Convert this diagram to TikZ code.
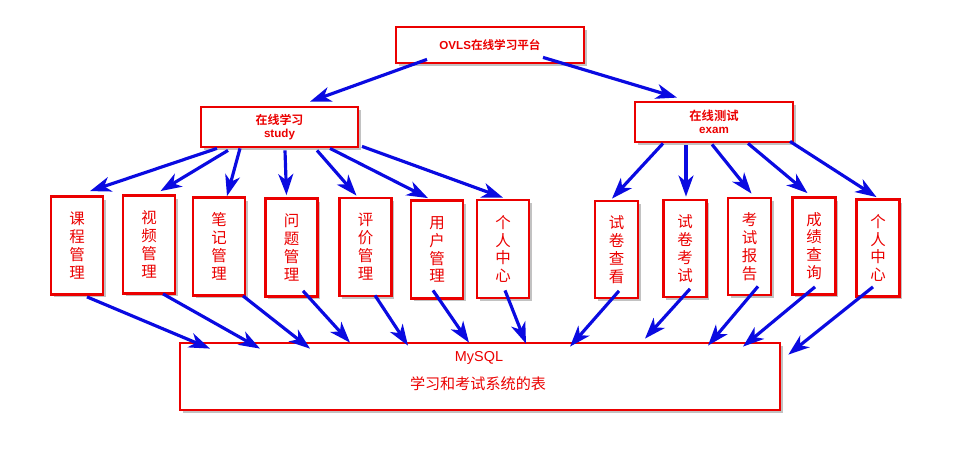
\documentclass[tikz,border=0pt]{standalone}
\usepackage{fontspec}
\setmainfont{Liberation Sans}
\newfontfamily\cjk{Noto Sans CJK SC}[BoldFont={Noto Sans CJK SC Bold}]
\usetikzlibrary{arrows.meta, shadows}

\definecolor{boxred}{RGB}{235,0,0}
\definecolor{linkblue}{RGB}{10,10,225}

\begin{document}
\begin{tikzpicture}[
    x=0.02cm, y=-0.02cm,
    >={Stealth[length=12pt, width=8.5pt, inset=3.5pt]},
    redbox/.style={
      draw=boxred, fill=white, line width=1.6pt, text=boxred,
      inner sep=0pt, align=center,
      drop shadow={shadow xshift=1.7pt, shadow yshift=-1.7pt,
                   fill=black!60, opacity=0.4},
    },
    headbox/.style={redbox, font=\fontsize{6.6}{7.1}\selectfont\bfseries},
    leafbox/.style={redbox, minimum width=1.04cm, minimum height=1.96cm,
      font=\cjk\fontsize{8.8}{10.2}\selectfont},
    thinleaf/.style={leafbox, minimum width=0.86cm, minimum height=1.94cm},
    dblabel/.style={text=boxred, inner sep=0pt},
    link/.style={->, draw=linkblue, line width=1.8pt},
  ]
  \useasboundingbox (0,0) rectangle (964,450);

  %% ---- top level ----
  \node[headbox, minimum width=3.76cm, minimum height=0.72cm]
    (top) at (490,45) {OVLS{\cjk 在线学习平台}};

  %% ---- second level ----
  \node[headbox, minimum width=3.14cm, minimum height=0.8cm]
    (study) at (279.5,127) {{\cjk\fontsize{6.8}{7.1}\selectfont 在线学习}\\study};
  \node[headbox, minimum width=3.16cm, minimum height=0.8cm]
    (exam) at (714,122) {{\cjk\fontsize{7}{7.1}\selectfont 在线测试}\\exam};

  %% ---- study modules ----
  \node[leafbox] (c1) at (77,245.5)  {课\\程\\管\\理};
  \node[leafbox] (c2) at (149,244.5) {视\\频\\管\\理};
  \node[leafbox] (c3) at (219,246.5) {笔\\记\\管\\理};
  \node[leafbox] (c4) at (291.5,247.5) {问\\题\\管\\理};
  \node[leafbox] (c5) at (365.5,247) {评\\价\\管\\理};
  \node[leafbox] (c6) at (437,249.5) {用\\户\\管\\理};
  \node[leafbox] (c7) at (503,249)   {个\\人\\中\\心};

  %% ---- exam modules ----
  \node[thinleaf] (r1) at (616.5,249.5) {试\\卷\\查\\看};
  \node[thinleaf] (r2) at (685,248.5)   {试\\卷\\考\\试};
  \node[thinleaf] (r3) at (749.5,246.5) {考\\试\\报\\告};
  \node[thinleaf] (r4) at (814,246)     {成\\绩\\查\\询};
  \node[thinleaf] (r5) at (878,248)     {个\\人\\中\\心};

  %% ---- database ----
  \node[redbox, minimum width=12cm, minimum height=1.34cm]
    (db) at (480,376.5) {};
  \node[dblabel, font=\fontsize{8.2}{9}\selectfont]
    (dbname) at ([shift={(-1,16)}]db.north) {MySQL};
  \node[dblabel, font=\cjk\fontsize{8.6}{10}\selectfont]
    (dbtext) at ([shift={(-2,42)}]db.north) {学习和考试系统的表};

  %% ---- top -> second level ----
  \draw[link] ([shift={(-63,-5)}]top.south) -- ([shift={(30.5,-4)}]study.north);
  \draw[link] ([shift={(53,-7)}]top.south)  -- ([shift={(-37,-3)}]exam.north);

  %% ---- study -> modules ----
  \draw[link] ([shift={(-62.5,0)}]study.south) -- ([shift={(13,-4)}]c1.north);
  \draw[link] ([shift={(-51.5,2)}]study.south) -- ([shift={(11.5,-3)}]c2.north);
  \draw[link] ([shift={(-39.5,0)}]study.south) -- ([shift={(8,0)}]c3.north);
  \draw[link] ([shift={(5.5,2)}]study.south)   -- ([shift={(-5,-2)}]c4.north);
  \draw[link] ([shift={(37.5,2)}]study.south)  -- ([shift={(-9,-1)}]c5.north);
  \draw[link] ([shift={(50.5,0)}]study.south)  -- ([shift={(-9,-1)}]c6.north);
  \draw[link] ([shift={(82.5,-2)}]study.south) -- ([shift={(0,-1)}]c7.north);

  %% ---- exam -> modules ----
  \draw[link] ([shift={(-51,0)}]exam.south) -- ([shift={(-4.5,-1)}]r1.north);
  \draw[link] ([shift={(-28,2)}]exam.south) -- ([shift={(1,-2)}]r2.north);
  \draw[link] ([shift={(-2,1)}]exam.south)  -- ([shift={(2,-3)}]r3.north);
  \draw[link] ([shift={(34,0)}]exam.south)  -- ([shift={(-6.5,-3)}]r4.north);
  \draw[link] ([shift={(76,-2)}]exam.south) -- ([shift={(-1.5,-1)}]r5.north);

  %% ---- modules -> database ----
  \draw[link] ([shift={(10,1)}]c1.south)     -- ([shift={(-270,7)}]db.north);
  \draw[link] ([shift={(14,-1)}]c2.south)    -- ([shift={(-220,7)}]db.north);
  \draw[link] ([shift={(24,-1)}]c3.south)    -- ([shift={(-170,7)}]db.north);
  \draw[link] ([shift={(11.5,-7)}]c4.south)  -- ([shift={(-130,1)}]db.north);
  \draw[link] ([shift={(9.5,-2)}]c5.south)   -- ([shift={(-72,4)}]db.north);
  \draw[link] ([shift={(-4,-9.5)}]c6.south)  -- ([shift={(-11,1)}]db.north);
  \draw[link] ([shift={(2,-9)}]c7.south)     -- ([shift={(46,2)}]db.north);
  \draw[link] ([shift={(2.5,-8.5)}]r1.south) -- ([shift={(90,5)}]db.north);
  \draw[link] ([shift={(5,-9.5)}]r2.south)   -- ([shift={(165,-3)}]db.north);
  \draw[link] ([shift={(8.5,-10)}]r3.south)  -- ([shift={(228,4)}]db.north);
  \draw[link] ([shift={(1,-9)}]r4.south)     -- ([shift={(263,5)}]db.north);
  \draw[link] ([shift={(-5,-11)}]r5.south)   -- ([shift={(7,13)}]db.north east);

\end{tikzpicture}
\end{document}
